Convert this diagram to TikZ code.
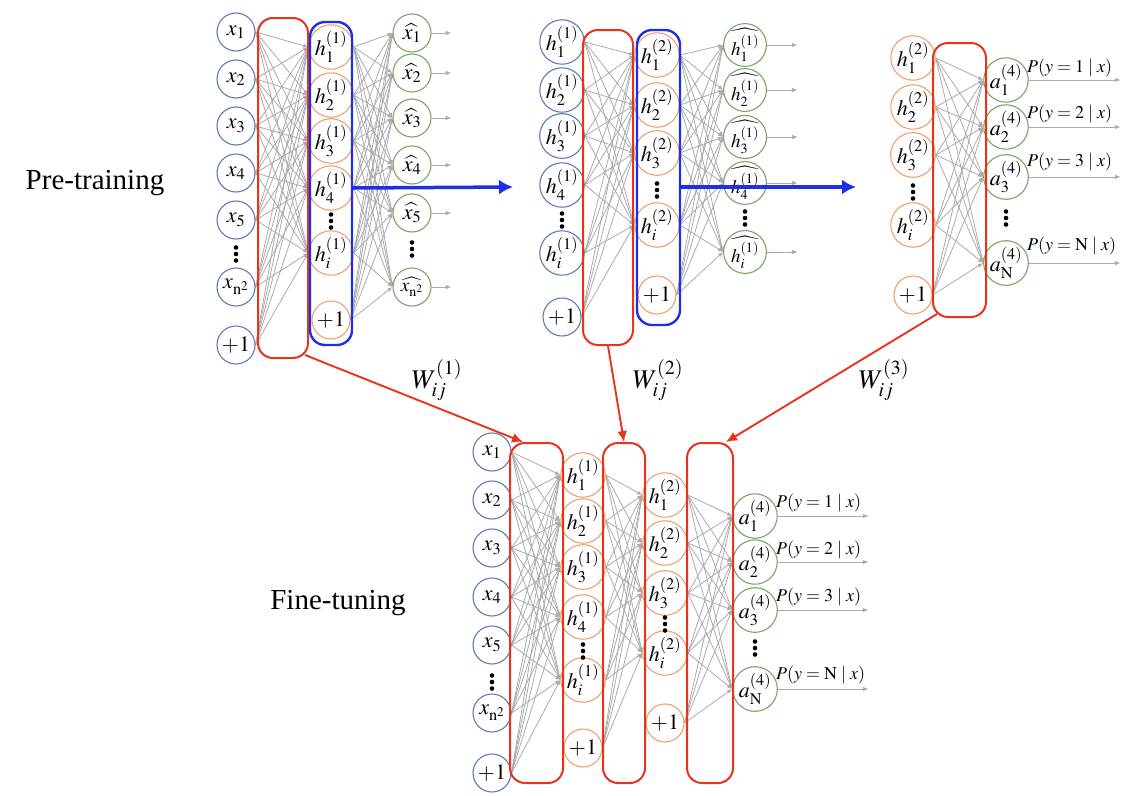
\documentclass[tikz,border=0pt]{standalone}
\usepackage{mathptmx}
\usepackage{fontspec}
\setmainfont{Liberation Serif}
\usetikzlibrary{arrows.meta,backgrounds}
\definecolor{cblue}{HTML}{5A7DB0}
\definecolor{corange}{HTML}{EFA06A}
\definecolor{cgreen}{HTML}{74A862}
\definecolor{cred}{HTML}{E8341E}
\definecolor{cbluebox}{HTML}{1F2FE6}
\definecolor{cgrey}{HTML}{ABABAB}
\tikzset{
  neu/.style={circle,draw,line width=1.1pt,minimum size=38pt,inner sep=0pt,font=\fontsize{22}{24}\selectfont},
  inp/.style={neu,draw=cblue},
  hid/.style={neu,draw=corange},
  outn/.style={neu,draw=cgreen},
  hatn/.style={outn,font=\fontsize{19}{21}\selectfont},
  conn/.style={draw=cgrey,line width=0.8pt,-{Latex[length=5pt,width=4pt]}},
  outarrow/.style={draw=cgrey,line width=1pt,-{Latex[length=6pt,width=4.5pt]}},
  redbox/.style={draw=cred,line width=2pt,rounded corners=15pt,inner sep=0pt},
  bluebox/.style={draw=cbluebox,line width=2.4pt,rounded corners=15pt,inner sep=0pt},
  bigarrow/.style={draw=cbluebox,line width=3.5pt,-{Latex[length=14pt,width=15pt]}},
  redarrow/.style={draw=cred,line width=1.9pt,-{Latex[length=11pt,width=10pt]}},
  plab/.style={font=\fontsize{18}{20}\selectfont,inner sep=0pt,anchor=west},
  wlab/.style={font=\fontsize{27}{29}\selectfont},
  titlelab/.style={font=\fontsize{29}{33}\selectfont},
  vd/.pic={\fill (0,-6.5) circle (2.3) (0,0) circle (2.3) (0,6.5) circle (2.3);}
}
\begin{document}
\begin{tikzpicture}[x=1pt,y=-1pt]
\useasboundingbox (0,0) rectangle (1137,795);

% ---------------- Block 1 ----------------
\foreach \i/\y in {1/32,2/79,3/126,4/173,5/220}
  \node[inp] (A\i) at (236,\y) {$x_{\i}$};
\node[inp] (An) at (236,287) {$x_{\mathrm{n}^2}$};
\node[inp] (Ab) at (236,345) {$+1$};
\pic at (236,254) {vd};

\foreach \i/\y in {1/47,2/95,3/141,4/188}
  \node[hid] (B\i) at (331,\y) {$h_{\i}^{(1)}$};
\node[hid] (Bi) at (331,253) {$h_{i}^{(1)}$};
\node[hid] (Bb) at (331,320) {$+1$};
\pic at (331,221) {vd};

\foreach \i/\y in {1/33,2/73,3/118,4/165,5/213}
  \node[outn] (C\i) at (412,\y) {$\widehat{x_{\i}}$};
\node[hatn] (Cn) at (412,287) {$\widehat{x_{\mathrm{n}^2}}$};
\pic at (412,249) {vd};

\node[redbox,minimum width=50pt,minimum height=340pt] (P1r) at (283,188) {};
\node[bluebox,minimum width=42pt,minimum height=323pt] (P1b) at (331,183.5) {};

% ---------------- Block 2 ----------------
\foreach \i/\y in {1/42,2/90,3/136,4/185}
  \node[inp] (D\i) at (562,\y) {$h_{\i}^{(1)}$};
\node[inp] (Di) at (562,253) {$h_{i}^{(1)}$};
\node[inp] (Db) at (562,317) {$+1$};
\pic at (562,220) {vd};

\foreach \i/\y in {1/55,2/105,3/153}
  \node[hid] (E\i) at (657,\y) {$h_{\i}^{(2)}$};
\node[hid] (Ei) at (657,225) {$h_{i}^{(2)}$};
\node[hid] (Eb) at (657,295) {$+1$};
\pic at (657,190) {vd};

\foreach \i/\y in {1/45,2/90,3/137,4/183}
  \node[hatn] (G\i) at (745,\y) {$\widehat{h_{\i}^{(1)}}$};
\node[hatn] (Gi) at (745,252) {$\widehat{h_{i}^{(1)}}$};
\pic at (745,218) {vd};

\node[redbox,minimum width=50pt,minimum height=315pt] (P2r) at (608,187.5) {};
\node[bluebox,minimum width=43pt,minimum height=295pt] (P2b) at (658.5,177.5) {};

% ---------------- Block 3 ----------------
\foreach \i/\y in {1/58,2/107,3/155}
  \node[hid] (H\i) at (913,\y) {$h_{\i}^{(2)}$};
\node[hid] (Hi) at (913,225) {$h_{i}^{(2)}$};
\node[hid] (Hb) at (913,295) {$+1$};
\pic at (913,192) {vd};

\foreach \i/\y in {1/80,2/127,3/177}
  \node[outn] (J\i) at (1006,\y) {$a_{\i}^{(4)}$};
\node[outn] (JN) at (1006,263) {$a_{\mathrm{N}}^{(4)}$};
\pic at (1006,218) {vd};

\node[redbox,minimum width=53pt,minimum height=274pt] (P3r) at (959.5,180) {};

% ---------------- Fine-tuning ----------------
\foreach \i/\y in {1/452,2/500,3/548,4/597,5/645}
  \node[inp] (K\i) at (492,\y) {$x_{\i}$};
\node[inp] (Kn) at (492,713) {$x_{\mathrm{n}^2}$};
\node[inp] (Kb) at (492,773) {$+1$};
\pic at (492,682) {vd};

\foreach \i/\y in {1/475,2/521,3/567,4/617}
  \node[hid] (L\i) at (583,\y) {$h_{\i}^{(1)}$};
\node[hid] (Li) at (583,680) {$h_{i}^{(1)}$};
\node[hid] (Lb) at (583,748) {$+1$};
\pic at (583,651) {vd};

\foreach \i/\y in {1/495,2/543,3/593}
  \node[hid] (M\i) at (665,\y) {$h_{\i}^{(2)}$};
\node[hid] (Mi) at (665,653) {$h_{i}^{(2)}$};
\node[hid] (Mb) at (665,723) {$+1$};
\pic at (665,624) {vd};

\foreach \i/\y in {1/516,2/562,3/610}
  \node[outn] (N\i) at (755,\y) {$a_{\i}^{(4)}$};
\node[outn] (NN) at (755,689) {$a_{\mathrm{N}}^{(4)}$};
\pic at (755,648) {vd};

\node[redbox,minimum width=53pt,minimum height=340pt] (F1r) at (536.5,613) {};
\node[redbox,minimum width=42pt,minimum height=340pt] (F2r) at (624,613) {};
\node[redbox,minimum width=46pt,minimum height=340pt] (F3r) at (710,613) {};

% ---------------- connections ----------------
\begin{scope}[on background layer]
\foreach \s in {A1,A2,A3,A4,A5,An,Ab}
  \foreach \t in {B1,B2,B3,B4,Bi}
    \draw[conn] (\s.east) -- (\t.west);
\foreach \s in {B1,B2,B3,B4,Bi,Bb}
  \foreach \t in {C1,C2,C3,C4,C5,Cn}
    \draw[conn] (\s.east) -- (\t.west);
\foreach \s in {D1,D2,D3,D4,Di,Db}
  \foreach \t in {E1,E2,E3,Ei}
    \draw[conn] (\s.east) -- (\t.west);
\foreach \s in {E1,E2,E3,Ei,Eb}
  \foreach \t in {G1,G2,G3,G4,Gi}
    \draw[conn] (\s.east) -- (\t.west);
\foreach \s in {H1,H2,H3,Hi,Hb}
  \foreach \t in {J1,J2,J3,JN}
    \draw[conn] (\s.east) -- (\t.west);
\foreach \s in {K1,K2,K3,K4,K5,Kn,Kb}
  \foreach \t in {L1,L2,L3,L4,Li}
    \draw[conn] (\s.east) -- (\t.west);
\foreach \s in {L1,L2,L3,L4,Li,Lb}
  \foreach \t in {M1,M2,M3,Mi}
    \draw[conn] (\s.east) -- (\t.west);
\foreach \s in {M1,M2,M3,Mi,Mb}
  \foreach \t in {N1,N2,N3,NN}
    \draw[conn] (\s.east) -- (\t.west);
\end{scope}

% output arrows
\foreach \t in {C1,C2,C3,C4,C5,Cn}
  \draw[outarrow] (\t.east) -- ++(20,0);
\foreach \t in {G1,G2,G3,G4,Gi}
  \draw[outarrow] (\t.east) -- ++(31,0);
\foreach \t in {J1,J2,J3,JN}
  \draw[outarrow] (\t.east) -- ++(92,0);
\foreach \t in {N1,N2,N3,NN}
  \draw[outarrow] (\t.east) -- ++(91,0);

% probability labels
\node[plab] (q1) at (1027,68) {$P(y=1\mid x)$};
\node[plab] (q2) at (1027,114) {$P(y=2\mid x)$};
\node[plab] (q3) at (1027,162) {$P(y=3\mid x)$};
\node[plab] (qN) at (1027,246) {$P(y=\mathrm{N}\mid x)$};
\node[plab] (s1) at (776,503) {$P(y=1\mid x)$};
\node[plab] (s2) at (776,550) {$P(y=2\mid x)$};
\node[plab] (s3) at (776,597) {$P(y=3\mid x)$};
\node[plab] (sN) at (776,675) {$P(y=\mathrm{N}\mid x)$};

% blue arrows
\coordinate (e1) at (513,187);
\coordinate (e2) at (856,187);
\draw[bigarrow] (P1b.east |- B4.center) -- (e1);
\draw[bigarrow] (P2b.east |- e2) -- (e2);

% red arrows
\draw[redarrow] ([xshift=-4pt,yshift=4pt]P1r.south east) -- ([xshift=14pt]F1r.north west);
\draw[redarrow] (P2r.south) -- (F2r.north);
\draw[redarrow] ([xshift=5pt,yshift=4pt]P3r.south west) -- ([xshift=-8pt]F3r.north east);

% W labels
\node[wlab] (w1) at (437,380) {$W_{ij}^{(1)}$};
\node[wlab] (w2) at (658,380) {$W_{ij}^{(2)}$};
\node[wlab] (w3) at (884,380) {$W_{ij}^{(3)}$};

% titles
\node[titlelab] (pt) at (95,183) {Pre-training};
\node[titlelab] (ft) at (338,603) {Fine-tuning};
\end{tikzpicture}
\end{document}
